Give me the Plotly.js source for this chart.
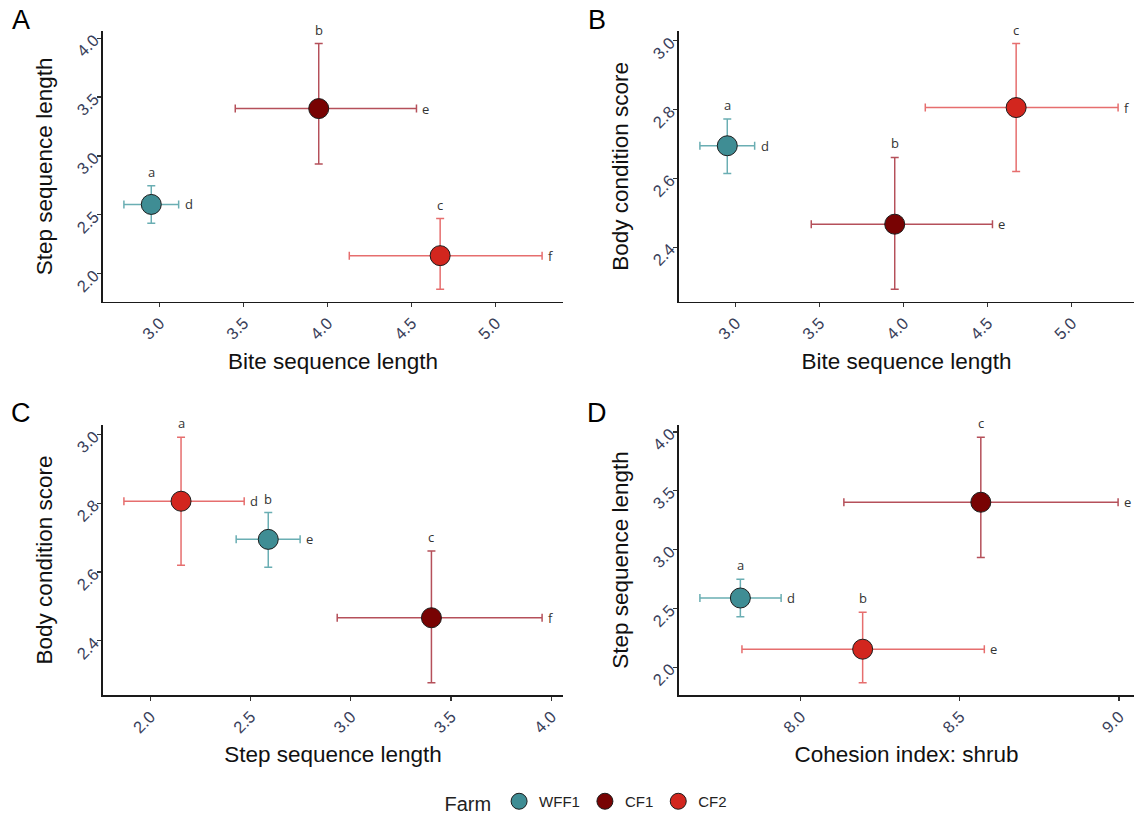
<!DOCTYPE html>
<html>
<head>
<meta charset="utf-8">
<script src="https://cdn.plot.ly/plotly-3.0.1.min.js"></script>
<style>html,body{margin:0;padding:0;background:#fff;}#chart{width:1134px;height:820px;}</style>
</head>
<body>
<div id="chart"></div>
<script>
// ---- data ----
const farms = ['WFF1', 'CF1', 'CF2'];
const farmColors = ['#3f8d94', '#780303', '#d2261e'];
const errColors = ['#6aaeb3', '#b5505a', '#e66e6e'];

const bite   = [2.950, 3.947, 4.670];
const biteLo = [2.787, 3.450, 4.129];
const biteHi = [3.113, 4.529, 5.277];

const step   = [2.588, 3.402, 2.153];
const stepLo = [2.428, 2.932, 1.868];
const stepHi = [2.747, 3.954, 2.468];

const bcs    = [2.695, 2.467, 2.806];
const bcsLo  = [2.614, 2.278, 2.620];
const bcsHi  = [2.773, 2.661, 2.992];

const cohesion   = [7.811, 8.566, 8.195];
const cohesionLo = [7.684, 8.136, 7.816];
const cohesionHi = [7.939, 8.997, 8.577];

// significance letters per panel, order WFF1, CF1, CF2
const lettersA_x = ['d', 'e', 'f'];  const lettersA_y = ['a', 'b', 'c'];
const lettersB_x = ['d', 'e', 'f'];  const lettersB_y = ['a', 'b', 'c'];
const lettersC_x = ['e', 'f', 'd'];  const lettersC_y = ['b', 'c', 'a'];
const lettersD_x = ['d', 'e', 'e'];  const lettersD_y = ['a', 'c', 'b'];

const panelLabels = ['A', 'B', 'C', 'D'];
const xTitles = ['Bite sequence length', 'Bite sequence length', 'Step sequence length', 'Cohesion index: shrub'];
const yTitles = ['Step sequence length', 'Body condition score', 'Body condition score', 'Step sequence length'];

const panels = [
  {x: bite, xlo: biteLo, xhi: biteHi, y: step, ylo: stepLo, yhi: stepHi, lx: lettersA_x, ly: lettersA_y},
  {x: bite, xlo: biteLo, xhi: biteHi, y: bcs, ylo: bcsLo, yhi: bcsHi, lx: lettersB_x, ly: lettersB_y},
  {x: step, xlo: stepLo, xhi: stepHi, y: bcs, ylo: bcsLo, yhi: bcsHi, lx: lettersC_x, ly: lettersC_y},
  {x: cohesion, xlo: cohesionLo, xhi: cohesionHi, y: step, ylo: stepLo, yhi: stepHi, lx: lettersD_x, ly: lettersD_y}
];

// ---- layout geometry ----
const W = 1134, H = 820;
const colL = [103 / W, 563 / W];
const colR = [679 / W, 1];
const rowT = [1 - 301.5 / H, 1 - 31.3 / H];
const rowB = [1 - 695 / H, 1 - 425 / H];
const doms = [[colL, rowT], [colR, rowT], [colL, rowB], [colR, rowB]];

function padRange(lo, hi) {
  const mn = Math.min(...lo), mx = Math.max(...hi);
  const p = (mx - mn) * 0.05;
  return [mn - p, mx + p];
}

const tickFont = {family: 'Liberation Sans, Arial, sans-serif', size: 16.5, color: '#39405a'};
const titleFont = {family: 'Liberation Sans, Arial, sans-serif', size: 22.5, color: '#111'};
const letterFont = {family: 'Open Sans, Noto Sans, sans-serif', size: 13, color: '#333'};

const data = [];
const annotations = [];
const layout = {
  width: W, height: H,
  margin: {l: 0, r: 0, t: 0, b: 0, autoexpand: false},
  paper_bgcolor: '#fff', plot_bgcolor: '#fff',
  showlegend: true,
  legend: {
    orientation: 'h', x: 0.518, xanchor: 'center', y: 1 - 803 / H, yanchor: 'middle',
    title: {text: 'Farm', side: 'left', font: {family: 'Liberation Sans, Arial, sans-serif', size: 20, color: '#222'}},
    font: {family: 'Liberation Sans, Arial, sans-serif', size: 15, color: '#222'},
    itemwidth: 30, tracegroupgap: 0, bgcolor: 'rgba(0,0,0,0)'
  },
  annotations: annotations
};

panels.forEach((p, k) => {
  const n = k === 0 ? '' : String(k + 1);
  const xa = 'x' + n, ya = 'y' + n;
  let xr = padRange(p.xlo, p.xhi);
  const yr = padRange(p.ylo, p.yhi);
  // right column is cut at the page edge
  if (k === 1 || k === 3) {
    const fullPx = (colL[1] - colL[0]) * W;
    const shownPx = (colR[1] - colR[0]) * W;
    xr = [xr[0], xr[0] + (xr[1] - xr[0]) * shownPx / fullPx];
  }
  const common = {
    showline: true, linecolor: '#1a1a1a', linewidth: 1.6,
    ticks: 'outside', ticklen: 4, tickwidth: 1.3, tickcolor: '#333',
    showgrid: false, zeroline: false, tickfont: tickFont, tickangle: -45,
    tickformat: '.1f', fixedrange: true
  };
  layout['xaxis' + n] = Object.assign({}, common, {
    domain: doms[k][0], range: xr, anchor: ya, dtick: 0.5,
    title: {text: xTitles[k], font: titleFont, standoff: 11}
  });
  layout['yaxis' + n] = Object.assign({}, common, {
    domain: doms[k][1], range: yr, anchor: xa, dtick: (k === 1 || k === 2) ? 0.2 : 0.5,
    title: {text: yTitles[k], font: titleFont, standoff: 14}
  });

  farms.forEach((f, i) => {
    data.push({
      type: 'scatter', mode: 'markers', xaxis: xa, yaxis: ya,
      name: f, legendgroup: f, showlegend: k === 0,
      x: [p.x[i]], y: [p.y[i]],
      marker: {size: 20, color: farmColors[i], line: {color: '#1c1c1c', width: 1}},
      error_x: {type: 'data', array: [p.xhi[i] - p.x[i]], arrayminus: [p.x[i] - p.xlo[i]],
                color: errColors[i], thickness: 1.5, width: 4},
      error_y: {type: 'data', array: [p.yhi[i] - p.y[i]], arrayminus: [p.y[i] - p.ylo[i]],
                color: errColors[i], thickness: 1.5, width: 4},
      hoverinfo: 'skip'
    });
    annotations.push({
      xref: xa, yref: ya, x: p.x[i], y: p.yhi[i], text: p.ly[i],
      showarrow: false, xanchor: 'center', yanchor: 'bottom', yshift: 3, font: letterFont
    });
    annotations.push({
      xref: xa, yref: ya, x: p.xhi[i], y: p.y[i], text: p.lx[i],
      showarrow: false, xanchor: 'left', yanchor: 'middle', xshift: 4, font: letterFont
    });
  });
});

const labelPos = [[21, 20], [597, 20], [21, 413], [597, 413]];
panelLabels.forEach((t, k) => {
  annotations.push({
    xref: 'paper', yref: 'paper', x: labelPos[k][0] / W, y: 1 - labelPos[k][1] / H,
    xanchor: 'center', yanchor: 'middle', text: t, showarrow: false,
    font: {family: 'Liberation Sans, Arial, sans-serif', size: 27, color: '#000'}
  });
});

Plotly.newPlot('chart', data, layout, {displayModeBar: false, staticPlot: true});
</script>
</body>
</html>
